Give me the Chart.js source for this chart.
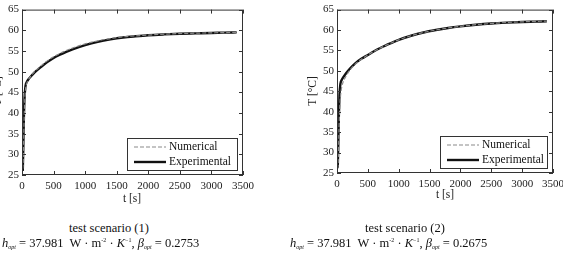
<!DOCTYPE html>
<html>
<head>
<meta charset="utf-8">
<script src="https://cdn.jsdelivr.net/npm/chart.js@4"></script>
<style>
  html, body { margin: 0; padding: 0; background: #fff; }
  body { width: 563px; height: 266px; position: relative; overflow: hidden; font-family: "Liberation Serif", "DejaVu Serif", serif; color: #111; }
  .plot { position: absolute; }
  .cap { position: absolute; font-size: 12.5px; white-space: nowrap; line-height: 1; }
  .cap sub { font-size: 6px; font-style: italic; vertical-align: -2px; }
  .cap sup { font-size: 6px; vertical-align: 5px; }
  .axt { position: absolute; font-size: 11.5px; line-height: 1; white-space: nowrap; color: #222; transform: translate(-50%, -50%); }
  .axt.rot { transform: translate(-50%, -50%) rotate(-90deg); }
</style>
</head>
<body>
<div class="plot" id="box1" style="left:-12px; top:0; width:275px; height:210px;"><canvas id="chart1"></canvas></div>
<div class="plot" id="box2" style="left:303px; top:0; width:270px; height:205px;"><canvas id="chart2"></canvas></div>

<div class="axt" id="xt1" style="left:132px; top:199px;"></div>
<div class="axt rot" id="yt1" style="left:-2px; top:91px;"></div>
<div class="axt" id="xt2" style="left:445px; top:195px;"></div>
<div class="axt rot" id="yt2" style="left:313px; top:91px;"></div>

<div class="cap" style="left:109px; top:222px; transform:translateX(-50%);">test scenario (1)</div>
<div class="cap" style="left:405px; top:222px; transform:translateX(-50%);">test scenario (2)</div>
<div class="cap" style="left:2px; top:237px;"><i>h</i><sub>opt</sub> = 37.981&nbsp; W · m<sup>-2</sup> · <i>K</i><sup>&minus;1</sup>, <i>β</i><sub>opt</sub> = 0.2753</div>
<div class="cap" style="left:290px; top:237px;"><i>h</i><sub>opt</sub> = 37.981&nbsp; W · m<sup>-2</sup> · <i>K</i><sup>&minus;1</sup>, <i>β</i><sub>opt</sub> = 0.2675</div>

<script>
// time samples [s], shared by all curves
const times = [12, 20, 30, 40, 55, 80, 100, 150, 200, 300, 400, 500, 600, 700, 800, 1000, 1200, 1400, 1600, 1800, 2000, 2250, 2500, 2750, 3000, 3200, 3400];

// test scenario (1)
const numerical1    = [26.5, 29, 36, 41.5, 45.5, 47.3, 48.0, 49.1, 50.0, 51.4, 52.6, 53.6, 54.4, 55.1, 55.7, 56.7, 57.45, 58.0, 58.4, 58.65, 58.85, 59.05, 59.2, 59.3, 59.38, 59.44, 59.5];
const experimental1 = [26.0, 31, 39, 43.5, 46.5, 47.6, 48.1, 49.0, 49.8, 51.1, 52.3, 53.3, 54.1, 54.8, 55.4, 56.4, 57.2, 57.8, 58.25, 58.55, 58.8, 59.0, 59.15, 59.25, 59.35, 59.42, 59.5];

// test scenario (2)
const numerical2    = [26.0, 28, 34, 39.5, 43.5, 46.3, 47.3, 48.8, 50.0, 51.7, 52.9, 53.9, 54.8, 55.6, 56.3, 57.6, 58.6, 59.4, 60.0, 60.5, 60.9, 61.3, 61.6, 61.85, 62.0, 62.1, 62.2];
const experimental2 = [26.3, 31, 39, 44.0, 46.8, 47.9, 48.4, 49.5, 50.4, 51.9, 53.0, 53.9, 54.8, 55.6, 56.3, 57.6, 58.6, 59.4, 60.0, 60.5, 60.9, 61.3, 61.6, 61.8, 61.95, 62.05, 62.15];

const seriesNames = ["Numerical", "Experimental"];
const xTicks = [0, 500, 1000, 1500, 2000, 2500, 3000, 3500];
const yTicks = [25, 30, 35, 40, 45, 50, 55, 60, 65];
const xTitle = "t [s]";
const yTitle = "T [\u00B0C]";

const SERIF = "Liberation Serif, serif";
const INK = "#222";

["xt1", "xt2"].forEach(id => { document.getElementById(id).textContent = xTitle; });
["yt1", "yt2"].forEach(id => { document.getElementById(id).textContent = yTitle; });

function pts(ys) {
  return times.map((t, i) => ({ x: t, y: ys[i] }));
}

// frame round the plot with inward ticks on all four sides (matlab style) and a boxed legend
function framePlugin(opts) {
  return {
    id: "frame_" + opts.id,
    afterDatasetsDraw(chart) {
      const { ctx, chartArea: a, scales } = chart;
      const len = 4;
      ctx.save();
      ctx.strokeStyle = "#333";
      ctx.lineWidth = 1;
      ctx.strokeRect(a.left + 0.5, a.top + 0.5, a.right - a.left - 1, a.bottom - a.top - 1);
      ctx.beginPath();
      xTicks.forEach(v => {
        const x = Math.round(scales.x.getPixelForValue(v)) + 0.5;
        ctx.moveTo(x, a.bottom); ctx.lineTo(x, a.bottom - len);
        ctx.moveTo(x, a.top); ctx.lineTo(x, a.top + len);
      });
      yTicks.forEach(v => {
        const y = Math.round(scales.y.getPixelForValue(v)) + 0.5;
        ctx.moveTo(a.left, y); ctx.lineTo(a.left + len, y);
        ctx.moveTo(a.right, y); ctx.lineTo(a.right - len, y);
      });
      ctx.stroke();

      // legend box
      const w = opts.legendW, h = 32;
      const x0 = Math.round(a.right - 6 - w), y0 = Math.round(a.bottom - 5 - h);
      ctx.fillStyle = "#fff";
      ctx.fillRect(x0, y0, w, h);
      ctx.strokeStyle = "#333";
      ctx.lineWidth = 1;
      ctx.strokeRect(x0 + 0.5, y0 + 0.5, w, h);
      ctx.font = "11.5px " + SERIF;
      ctx.textAlign = "left";
      ctx.textBaseline = "middle";
      chart.data.datasets.forEach((ds, i) => {
        const y = y0 + 9 + i * 15;
        ctx.beginPath();
        ctx.setLineDash(ds.borderDash || []);
        ctx.strokeStyle = ds.borderColor;
        ctx.lineWidth = ds.borderWidth;
        ctx.moveTo(x0 + 7, y); ctx.lineTo(x0 + 39, y);
        ctx.stroke();
        ctx.setLineDash([]);
        ctx.fillStyle = "#111";
        ctx.fillText(ds.label, x0 + 42, y);
      });
      ctx.restore();
    }
  };
}

function makeChart(id, num, exp, opts) {
  const ctx = document.getElementById(id).getContext("2d");
  return new Chart(ctx, {
    type: "line",
    data: {
      datasets: [
        { label: seriesNames[0], data: pts(num), borderColor: "#8a8a8a", borderWidth: 1.2, borderDash: [4, 2], pointRadius: 0, cubicInterpolationMode: "monotone" },
        { label: seriesNames[1], data: pts(exp), borderColor: "#111", borderWidth: 2.4, pointRadius: 0, cubicInterpolationMode: "monotone" }
      ]
    },
    options: {
      responsive: true, maintainAspectRatio: false, animation: false,
      layout: { padding: { top: opts.top, right: 20, left: 0, bottom: 0 } },
      plugins: { legend: { display: false }, tooltip: { enabled: false } },
      scales: {
        x: {
          type: "linear", min: 0, max: 3500,
          afterBuildTicks: s => { s.ticks = xTicks.map(v => ({ value: v })); },
          afterFit: s => { s.height = opts.xH; },
          grid: { display: false, drawTicks: false }, border: { display: false },
          ticks: { font: { family: SERIF, size: 11 }, color: INK, padding: 5, maxRotation: 0, minRotation: 0, autoSkip: false, callback: v => String(v) }
        },
        y: {
          min: 25, max: 65,
          afterBuildTicks: s => { s.ticks = yTicks.map(v => ({ value: v })); },
          afterFit: s => { s.width = 34; },
          grid: { display: false, drawTicks: false }, border: { display: false },
          ticks: { font: { family: SERIF, size: 11 }, color: INK, padding: 3, callback: v => String(v) }
        }
      }
    },
    plugins: [framePlugin(opts)]
  });
}

makeChart("chart1", numerical1, experimental1, { id: 1, top: 7, xH: 35, legendW: 110 });
makeChart("chart2", numerical2, experimental2, { id: 2, top: 9, xH: 32, legendW: 107 });
</script>
</body>
</html>
